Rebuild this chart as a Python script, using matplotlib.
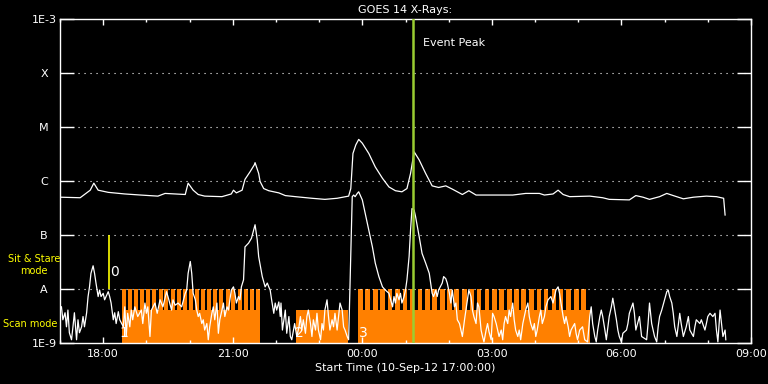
import numpy as np
import matplotlib
matplotlib.use('Agg')
import matplotlib.pyplot as plt
from matplotlib.ticker import FixedLocator, MultipleLocator, NullLocator

# time axis: minutes after 10-Sep-12 17:00:00, flux: log10(W/m^2)

# GOES 14 long channel (1-8 A)
long_min = [1, 28, 42, 47, 53, 67, 90, 112, 136, 146,
            174, 178, 185, 192, 201, 225, 238, 241, 245, 253,
            257, 264, 270, 271, 276, 278, 283, 290, 304, 313,
            327, 350, 368, 385, 401, 404, 407, 411, 415, 420,
            429, 438, 448, 457, 466, 475, 482, 487, 492, 499,
            508, 517, 526, 536, 545, 559, 568, 578, 629, 647,
            666, 673, 685, 692, 699, 708, 736, 754, 763, 791,
            800, 810, 819, 833, 843, 852, 866, 880, 898, 912,
            922, 924]
long_log = [-6.30, -6.31, -6.17, -6.04, -6.17, -6.21, -6.24, -6.26, -6.28, -6.23,
            -6.25, -6.04, -6.17, -6.25, -6.28, -6.29, -6.24, -6.17, -6.22, -6.17,
            -5.97, -5.83, -5.70, -5.66, -5.86, -6.01, -6.14, -6.18, -6.22, -6.27,
            -6.29, -6.32, -6.34, -6.32, -6.28, -6.14, -5.49, -5.33, -5.23, -5.30,
            -5.49, -5.74, -5.95, -6.11, -6.18, -6.20, -6.14, -5.86, -5.46, -5.61,
            -5.86, -6.09, -6.12, -6.09, -6.15, -6.25, -6.18, -6.26, -6.26, -6.23,
            -6.23, -6.26, -6.24, -6.17, -6.25, -6.29, -6.28, -6.31, -6.34, -6.35,
            -6.27, -6.30, -6.34, -6.29, -6.23, -6.27, -6.33, -6.30, -6.28, -6.29,
            -6.32, -6.63]

# GOES 14 short channel (0.5-4 A)
short_min = [2, 4, 7, 9, 11, 13, 16, 18, 20, 23,
             25, 27, 30, 32, 34, 37, 39, 41, 43, 46,
             48, 50, 53, 55, 57, 60, 62, 64, 67, 69,
             71, 74, 76, 78, 81, 83, 88, 90, 92, 94,
             97, 99, 101, 104, 108, 113, 115, 118, 120, 122,
             125, 127, 132, 135, 139, 143, 148, 150, 155, 157,
             160, 164, 169, 174, 176, 178, 181, 183, 185, 188,
             190, 192, 194, 197, 199, 201, 204, 206, 208, 211,
             213, 215, 218, 220, 222, 225, 227, 229, 232, 234,
             236, 238, 241, 243, 245, 248, 250, 252, 255, 257,
             262, 266, 269, 271, 274, 276, 281, 285, 288, 290,
             292, 294, 297, 299, 301, 304, 306, 307, 309, 311,
             313, 315, 318, 320, 322, 326, 329, 332, 334, 336,
             338, 341, 343, 345, 348, 350, 352, 355, 357, 359,
             362, 364, 366, 368, 371, 373, 375, 378, 380, 382,
             385, 387, 389, 392, 394, 396, 399, 401, 403, 406,
             408, 410, 413, 415, 418, 420, 425, 429, 434, 438,
             443, 448, 452, 457, 462, 464, 466, 468, 471, 473,
             475, 478, 480, 482, 485, 487, 489, 492, 494, 499,
             503, 508, 513, 515, 517, 519, 522, 524, 526, 531,
             533, 536, 538, 541, 543, 545, 548, 550, 552, 555,
             557, 559, 562, 564, 566, 568, 571, 573, 575, 578,
             580, 582, 585, 587, 589, 592, 594, 596, 599, 601,
             603, 606, 608, 610, 613, 615, 617, 619, 622, 624,
             626, 629, 631, 633, 636, 638, 640, 643, 645, 647,
             650, 652, 654, 657, 659, 661, 663, 666, 668, 670,
             673, 675, 678, 682, 685, 689, 692, 694, 696, 699,
             701, 703, 706, 708, 710, 715, 717, 719, 722, 726,
             729, 733, 736, 738, 740, 743, 745, 747, 750, 752,
             754, 757, 759, 763, 766, 768, 770, 773, 775, 777,
             780, 782, 787, 789, 791, 796, 798, 800, 805, 808,
             815, 817, 819, 822, 824, 826, 829, 831, 833, 836,
             840, 843, 845, 847, 850, 852, 854, 857, 861, 863,
             866, 870, 873, 875, 880, 882, 884, 889, 891, 896,
             898, 900, 903, 907, 910, 912, 914, 917, 919, 921,
             924, 925]
short_log = [-8.33, -8.57, -8.44, -8.70, -8.39, -8.81, -8.94, -8.70, -8.44, -8.94,
             -8.57, -8.81, -8.70, -8.51, -8.70, -8.44, -8.14, -7.96, -7.71, -7.57,
             -7.71, -7.89, -8.14, -8.02, -8.14, -8.08, -8.20, -8.14, -8.05, -8.14,
             -8.26, -8.57, -8.44, -8.64, -8.42, -8.57, -8.70, -8.33, -8.88, -8.45,
             -8.70, -8.39, -8.57, -8.33, -8.51, -8.39, -8.64, -8.26, -8.45, -8.33,
             -8.88, -8.39, -8.26, -8.45, -8.20, -8.33, -8.05, -8.14, -8.39, -8.20,
             -8.30, -8.26, -8.33, -8.08, -8.02, -7.71, -7.49, -7.71, -8.08, -8.20,
             -8.39, -8.51, -8.45, -8.64, -8.57, -8.76, -8.64, -8.94, -8.70, -8.45,
             -8.33, -8.57, -8.26, -8.82, -8.57, -8.39, -8.26, -8.51, -8.33, -8.39,
             -8.20, -8.02, -7.96, -8.08, -8.26, -8.14, -8.20, -7.96, -7.83, -7.22,
             -7.15, -7.06, -6.91, -6.81, -7.09, -7.40, -7.77, -7.96, -7.89, -7.96,
             -8.02, -8.20, -8.45, -8.26, -8.39, -8.24, -8.51, -8.26, -8.76, -8.57,
             -8.39, -8.82, -8.51, -8.88, -8.94, -8.64, -8.88, -8.70, -8.51, -8.76,
             -8.57, -8.82, -8.51, -8.39, -8.64, -8.88, -8.57, -8.76, -8.45, -8.76,
             -8.94, -8.64, -8.76, -8.39, -8.20, -8.51, -8.76, -8.57, -8.70, -8.45,
             -8.76, -8.51, -8.26, -8.39, -8.70, -8.76, -8.88, -8.94, -7.89, -6.29,
             -6.26, -6.29, -6.23, -6.20, -6.29, -6.35, -6.66, -6.91, -7.22, -7.52,
             -7.77, -7.96, -8.02, -8.08, -8.33, -8.14, -8.26, -8.08, -8.20, -8.08,
             -8.26, -8.14, -8.02, -7.83, -7.40, -6.91, -6.51, -6.54, -6.66, -7.03,
             -7.34, -7.52, -7.71, -7.89, -8.08, -8.14, -8.02, -8.14, -8.02, -7.89,
             -7.77, -7.81, -7.89, -8.08, -8.26, -8.02, -8.33, -8.26, -8.57, -8.64,
             -8.76, -8.88, -8.57, -8.39, -8.20, -8.02, -8.14, -8.39, -8.51, -8.64,
             -8.26, -8.33, -8.76, -8.88, -8.98, -8.76, -8.64, -8.79, -8.94, -8.45,
             -8.51, -8.64, -8.76, -8.88, -8.76, -8.94, -8.64, -8.51, -8.64, -8.39,
             -8.51, -8.26, -8.57, -8.76, -8.88, -8.76, -8.94, -8.64, -8.51, -8.39,
             -8.26, -8.51, -8.64, -8.76, -8.64, -8.88, -8.76, -8.51, -8.39, -8.64,
             -8.51, -8.33, -8.20, -8.14, -8.26, -8.02, -7.96, -8.08, -8.26, -8.51,
             -8.64, -8.51, -8.70, -8.88, -8.76, -8.64, -8.82, -8.94, -8.76, -8.70,
             -8.94, -8.98, -8.51, -8.33, -8.64, -8.88, -8.98, -8.76, -8.51, -8.39,
             -8.51, -8.76, -8.94, -8.51, -8.33, -8.17, -8.33, -8.57, -8.76, -8.88,
             -8.98, -8.82, -8.76, -8.64, -8.45, -8.26, -8.45, -8.76, -8.51, -8.88,
             -8.94, -8.64, -8.26, -8.64, -8.76, -8.88, -8.98, -8.70, -8.51, -8.39,
             -8.20, -8.05, -8.02, -8.14, -8.26, -8.45, -8.70, -8.88, -8.45, -8.64,
             -8.88, -8.70, -8.51, -8.76, -8.88, -8.70, -8.57, -8.64, -8.57, -8.76,
             -8.64, -8.51, -8.45, -8.51, -8.45, -8.76, -8.98, -8.39, -8.64, -8.88,
             -8.76, -8.94]

# observation blocks (scan mode), minutes after 17:00
block_start = [86, 328, 414]
block_end = [278, 400, 736]
scan_level = 10 ** -8.39
stare_level = 1e-8

# sit & stare steps inside the blocks
stare1_start = [86, 94, 103, 111, 120, 128, 137, 145, 154, 162, 171, 179,
                188, 196, 204, 213, 221, 230, 238, 247, 255, 264, 272]
stare1_width = 5.6
stare3_start = [414, 424, 435, 445, 455, 466, 476, 486, 497, 507, 517,
                528, 538, 548, 559, 569, 579, 590, 600, 610, 621, 631,
                641, 652, 662, 672, 683, 693, 703, 714, 724]
stare3_width = 6.5

obs_labels = ['0', '1', '2', '3']
obs_label_min = [76, 89, 333, 421]
obs_label_log = [-7.68, -8.81, -8.81, -8.81]
marker0_min = 68
event_peak_min = 490

level_vals = [1e-9, 1e-8, 1e-7, 1e-6, 1e-5, 1e-4, 1e-3]
level_names = ['1E-9', 'A', 'B', 'C', 'M', 'X', '1E-3']
hour_ticks = [60, 240, 420, 600, 780, 960]
hour_names = ['18:00', '21:00', '00:00', '03:00', '06:00', '09:00']

orange = '#ff8000'
yellow = '#ffff00'
green = '#9acd32'

fig = plt.figure(figsize=(7.68, 3.84), dpi=100, facecolor='black')
ax = fig.add_axes([60 / 768, 41 / 384, 691 / 768, 324 / 384])
ax.set_facecolor('black')
ax.set_yscale('log')

# orange observation blocks
ax.bar(block_start, [scan_level - 1e-9] * len(block_start),
       width=np.array(block_end) - np.array(block_start), bottom=1e-9,
       align='edge', color=orange, linewidth=0, zorder=1)
ax.bar(stare1_start, [stare_level - 1e-9] * len(stare1_start), width=stare1_width,
       bottom=1e-9, align='edge', color=orange, linewidth=0, zorder=1)
ax.bar(stare3_start, [stare_level - 1e-9] * len(stare3_start), width=stare3_width,
       bottom=1e-9, align='edge', color=orange, linewidth=0, zorder=1)

# dotted level lines
for lv in level_vals[1:-1]:
    ax.axhline(lv, color='white', linestyle=(0, (1, 4.4)), linewidth=0.8, zorder=2)

# GOES curves
ax.plot(long_min, 10 ** np.array(long_log), color='white', lw=0.9, zorder=4)
ax.plot(short_min, 10 ** np.array(short_log), color='white', lw=0.9, zorder=4)

ax.vlines(marker0_min, 1e-8, 1e-7, color=yellow, lw=1.2, zorder=5)
ax.axvline(event_peak_min, color=green, lw=1.8, zorder=6)

for lab, m, lg in zip(obs_labels, obs_label_min, obs_label_log):
    ax.text(m, 10 ** lg, lab, color='white', fontsize=10, ha='center', va='center', zorder=5)

ax.set_xlim(0, 960)
ax.set_ylim(1e-9, 1e-3)

ax.yaxis.set_major_locator(FixedLocator(level_vals))
ax.yaxis.set_minor_locator(NullLocator())
ax.set_yticklabels(level_names)
ax.xaxis.set_major_locator(FixedLocator(hour_ticks))
ax.xaxis.set_minor_locator(MultipleLocator(60))
ax.set_xticklabels(hour_names)

ax.tick_params(axis='y', which='major', direction='in', length=10, width=1,
               colors='white', left=True, right=True, labelsize=8, pad=11.5)
ax.tick_params(axis='x', which='major', direction='in', length=4.5, width=1,
               colors='white', top=True, bottom=True, labelsize=8, pad=4)
ax.tick_params(axis='x', which='minor', direction='in', length=2.5, width=1,
               colors='white', top=True, bottom=True)
for lbl in ax.get_yticklabels():
    lbl.set_horizontalalignment('center')

for sp in ax.spines.values():
    sp.set_color('white')
    sp.set_linewidth(1)

fig.text(405 / 768, 1 - 10 / 384, 'GOES 14 X-Rays:', color='white', fontsize=8,
         ha='center', va='center')
fig.text(405 / 768, 1 - 368 / 384, 'Start Time (10-Sep-12 17:00:00)', color='white',
         fontsize=8, ha='center', va='center')
fig.text(423 / 768, 1 - 43 / 384, 'Event Peak', color='white', fontsize=8,
         ha='left', va='center')
fig.text(34 / 768, 1 - 265 / 384, 'Sit & Stare\nmode', color=yellow, fontsize=7,
         ha='center', va='center', linespacing=1.15)
fig.text(3 / 768, 1 - 324 / 384, 'Scan mode', color=yellow, fontsize=7,
         ha='left', va='center')

fig.savefig('out.png', dpi=100, facecolor='black')
